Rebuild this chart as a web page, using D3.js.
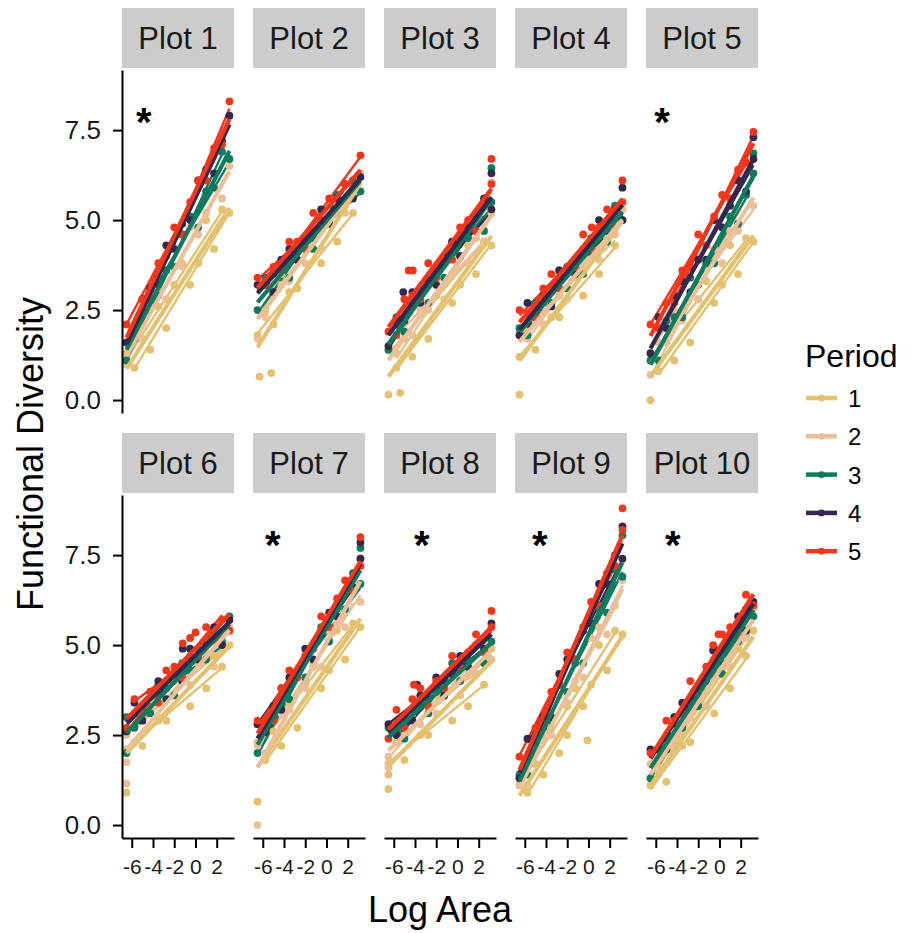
<!DOCTYPE html>
<html>
<head>
<meta charset="utf-8">
<script src="https://cdn.jsdelivr.net/npm/d3@7"></script>
<style>
  body { margin: 0; background: #fff; }
  text { font-family: "Liberation Sans", Arial, sans-serif; }
</style>
</head>
<body>
<svg id="canvas"></svg>
<script>
/***********************************************************************/
// Data

var plotNames = ['Plot 1', 'Plot 2', 'Plot 3', 'Plot 4', 'Plot 5', 'Plot 6', 'Plot 7', 'Plot 8', 'Plot 9', 'Plot 10'];
var periods = ['1', '2', '3', '4', '5'];
var periodColors = ['#E3C16F', '#EBBF98', '#0E7A5E', '#35284B', '#F2361C'];

var logArea = [-6.5, -5.75, -5.0, -4.25, -3.5, -2.75, -2.0, -1.25, -0.5, 0.25, 1.0, 1.75, 2.5, 3.2];
var xTicks = [-6, -4, -2, 0, 2];
var yTicks = [0, 2.5, 5, 7.5];

// functional diversity, one row per period, one value per logArea column
var fd1 = [
  [1.3, 0.9, 1.7, 1.4, 2.6, 2.0, 3.2, 3.8, 3.2, 3.8, 5.0, 4.2, 5.3, 5.2],
  [1.0, 2.0, 1.7, 2.6, 3.1, 2.8, 3.7, 3.7, 4.8, 4.6, 5.2, 5.9, 5.6, 6.5],
  [1.1, 2.0, 2.2, 3.1, 2.9, 3.6, 3.7, 4.6, 5.1, 4.8, 5.8, 5.9, 6.9, 6.7],
  [1.6, 1.7, 2.8, 3.1, 3.2, 4.3, 4.2, 4.9, 5.0, 6.1, 6.4, 6.3, 7.2, 7.9],
  [2.1, 2.0, 2.8, 2.8, 3.8, 4.0, 4.8, 4.6, 5.5, 6.1, 6.1, 7.0, 7.1, 8.3]
];
var fd2 = [
  [1.8, 2.5, 2.1, 3.5, 3.0, 3.1, 4.3, 4.4, 3.8, 5.0, 4.4, 5.4, 5.2, 6.3],
  [2.5, 2.3, 3.3, 3.2, 3.3, 4.2, 3.8, 4.5, 4.2, 5.2, 5.4, 5.2, 6.1, 5.8],
  [2.5, 3.4, 3.0, 3.6, 3.4, 4.3, 4.5, 4.2, 4.9, 4.9, 5.7, 5.5, 6.1, 5.8],
  [3.2, 3.2, 3.0, 3.9, 4.2, 3.9, 4.4, 4.5, 5.3, 4.9, 5.6, 6.0, 5.6, 6.2],
  [3.4, 3.2, 3.7, 3.6, 4.4, 4.4, 4.2, 5.2, 5.0, 5.6, 5.3, 6.0, 5.9, 6.8]
];
var fd3 = [
  [1.4, 0.9, 1.7, 1.2, 2.4, 1.7, 2.9, 3.4, 2.7, 3.2, 4.3, 3.5, 4.4, 4.3],
  [1.5, 1.3, 1.9, 1.8, 2.5, 2.5, 3.2, 2.8, 3.5, 4.0, 3.8, 4.5, 4.4, 5.2],
  [1.4, 2.3, 1.9, 2.7, 3.1, 2.7, 3.5, 3.4, 4.4, 4.0, 4.5, 5.1, 4.7, 5.5],
  [1.5, 2.2, 2.2, 3.0, 2.7, 3.3, 3.2, 4.0, 4.4, 4.0, 4.8, 4.7, 5.6, 5.3],
  [1.9, 1.8, 2.8, 2.9, 2.8, 3.8, 3.4, 3.9, 3.9, 4.8, 5.0, 4.7, 5.4, 6.0]
];
var fd4 = [
  [1.2, 1.9, 1.4, 2.8, 2.3, 2.3, 3.5, 3.5, 2.9, 4.2, 3.5, 4.5, 4.3, 5.3],
  [1.9, 1.7, 2.2, 2.1, 3.0, 2.9, 2.8, 3.7, 3.6, 4.2, 3.9, 4.6, 4.6, 5.3],
  [2.0, 1.8, 2.7, 2.7, 2.7, 3.6, 3.1, 3.8, 3.5, 4.5, 4.7, 4.4, 5.4, 5.0],
  [1.8, 2.7, 2.3, 2.9, 2.6, 3.6, 3.7, 3.5, 4.1, 4.1, 5.0, 4.7, 5.3, 5.0],
  [2.5, 2.4, 2.3, 3.1, 3.5, 3.1, 3.7, 3.7, 4.6, 4.2, 4.8, 5.3, 4.8, 5.5]
];
var fd5 = [
  [1.3, 0.8, 1.6, 1.1, 2.3, 1.6, 2.8, 3.3, 2.7, 3.2, 4.3, 3.5, 4.5, 4.4],
  [0.7, 1.6, 1.6, 2.5, 2.2, 2.9, 2.8, 3.7, 4.2, 3.8, 4.7, 4.7, 5.7, 5.4],
  [1.1, 1.1, 2.2, 2.3, 2.3, 3.4, 3.2, 3.8, 3.8, 4.8, 5.1, 4.9, 5.7, 6.3],
  [1.3, 2.3, 2.0, 2.9, 3.3, 3.0, 3.9, 3.9, 5.0, 4.8, 5.4, 6.1, 5.8, 6.7],
  [2.1, 2.0, 2.7, 2.7, 3.6, 3.7, 4.6, 4.3, 5.1, 5.7, 5.6, 6.4, 6.6, 7.45]
];
var fd6 = [
  [2.1, 2.7, 2.2, 3.5, 2.9, 2.9, 4.0, 4.0, 3.3, 4.5, 3.8, 4.7, 4.4, 5.0],
  [2.5, 2.3, 3.2, 3.2, 3.0, 3.9, 3.6, 4.0, 3.9, 4.7, 4.8, 4.4, 5.0, 5.5],
  [3.0, 2.7, 3.2, 3.1, 3.9, 3.8, 3.6, 4.5, 4.3, 4.9, 4.6, 5.2, 5.1, 5.8],
  [2.6, 3.4, 2.9, 3.7, 4.0, 3.5, 4.2, 4.0, 4.9, 4.6, 5.0, 5.5, 5.0, 5.7],
  [2.7, 3.5, 3.1, 3.7, 3.4, 4.3, 4.4, 4.1, 4.7, 4.7, 5.5, 5.2, 5.7, 5.4]
];
var fd7 = [
  [2.3, 1.8, 2.6, 2.2, 3.4, 2.7, 3.9, 4.4, 3.8, 4.3, 5.4, 4.6, 5.6, 5.5],
  [2.2, 2.0, 3.1, 3.1, 3.2, 4.2, 3.8, 4.5, 4.4, 5.4, 5.6, 5.5, 6.5, 6.2],
  [2.0, 2.9, 2.9, 3.8, 3.5, 4.2, 4.1, 5.0, 5.5, 5.1, 6.0, 6.0, 7.0, 6.7],
  [2.8, 2.6, 3.3, 3.2, 4.1, 4.2, 4.9, 4.6, 5.3, 5.9, 5.8, 6.5, 6.6, 7.4],
  [2.9, 2.9, 2.9, 3.8, 4.3, 4.1, 4.7, 4.9, 5.8, 5.5, 6.3, 6.8, 6.5, 7.2]
];
var fd8 = [
  [1.7, 2.3, 1.8, 3.1, 2.5, 2.5, 3.6, 3.6, 2.9, 4.0, 3.3, 4.2, 3.9, 4.9],
  [1.9, 2.6, 2.5, 3.2, 2.8, 3.3, 3.1, 3.8, 4.1, 3.6, 4.3, 4.2, 5.0, 4.6],
  [2.7, 2.6, 2.4, 3.2, 3.5, 3.1, 3.7, 3.7, 4.5, 4.0, 4.6, 5.0, 4.5, 5.1],
  [2.8, 2.5, 3.0, 2.9, 3.6, 3.5, 4.1, 3.6, 4.2, 4.7, 4.4, 5.0, 4.9, 5.6],
  [2.4, 3.2, 2.7, 3.5, 3.8, 3.3, 4.0, 3.8, 4.7, 4.4, 4.8, 5.3, 4.8, 5.5]
];
var fd9 = [
  [1.3, 0.9, 1.7, 1.4, 2.7, 2.0, 3.3, 3.8, 3.3, 3.9, 5.0, 4.3, 5.4, 5.3],
  [1.1, 1.1, 2.2, 2.5, 2.5, 3.6, 3.4, 4.0, 4.1, 5.2, 5.5, 5.3, 6.1, 6.8],
  [1.4, 1.4, 2.5, 2.7, 2.9, 3.9, 3.7, 4.5, 4.5, 5.6, 6.0, 5.9, 7.1, 6.9],
  [1.3, 2.4, 2.3, 3.0, 3.0, 4.2, 4.6, 4.6, 5.4, 5.6, 6.7, 6.7, 7.5, 7.4],
  [1.9, 1.9, 2.7, 2.8, 3.7, 3.9, 4.8, 4.6, 5.5, 6.2, 6.1, 7.0, 7.2, 8.2]
];
var fd10 = [
  [1.1, 1.6, 1.2, 2.6, 2.2, 2.3, 3.5, 3.7, 3.1, 4.4, 3.8, 4.9, 4.7, 5.4],
  [1.7, 1.5, 2.2, 2.1, 2.9, 3.0, 3.7, 3.3, 4.1, 4.6, 4.4, 5.2, 5.2, 6.0],
  [1.3, 2.1, 2.2, 3.0, 2.7, 3.4, 3.3, 4.2, 4.6, 4.2, 5.1, 5.1, 6.0, 5.8],
  [2.1, 2.1, 2.1, 3.0, 3.4, 3.2, 3.8, 4.0, 4.9, 4.5, 5.3, 5.8, 5.4, 6.2],
  [2.0, 1.8, 2.9, 2.9, 3.1, 4.0, 3.6, 4.4, 4.2, 5.3, 5.5, 5.3, 6.4, 6.1]
];
var fdByPlot = [fd1, fd2, fd3, fd4, fd5, fd6, fd7, fd8, fd9, fd10];

// stray points: [plot, period, logArea, fd]
var extraPoints = [
  [2, 1, -6.3, 0.65], [2, 1, -5.2, 0.75], [2, 2, -6.5, 1.7],
  [3, 1, -6.5, 0.15], [3, 1, -5.4, 0.2], [3, 5, -4.6, 3.6], [3, 5, -4.2, 3.6], [3, 4, -5.1, 3.0],
  [3, 5, 3.2, 6.7], [3, 3, 3.2, 6.45], [3, 4, 3.2, 6.3], [3, 2, 3.2, 6.05],
  [4, 1, -6.5, 0.15], [4, 5, 3.2, 6.1], [4, 4, 3.2, 5.9], [4, 5, 0.3, 4.8],
  [5, 1, -6.5, 0.0], [5, 3, 3.2, 6.85], [5, 4, 3.2, 7.3],
  [6, 1, -6.5, 0.9], [6, 2, -6.5, 1.15], [6, 2, -6.5, 1.75], [6, 3, -6.5, 2.0],
  [6, 5, -1.2, 5.05], [6, 5, -0.5, 5.2], [6, 5, 0.0, 5.35], [6, 4, -1.2, 4.9],
  [7, 2, -6.5, 0.0], [7, 1, -6.5, 0.65], [7, 5, 3.2, 8.0], [7, 4, 3.2, 7.85], [7, 3, 3.2, 7.7], [7, 2, 3.2, 7.4],
  [8, 1, -6.5, 1.0], [8, 1, -6.5, 1.4], [8, 2, -6.5, 1.6], [8, 5, 3.2, 5.95], [8, 5, -4.1, 3.9], [8, 4, -3.8, 3.9],
  [9, 5, 3.2, 8.8], [9, 4, 3.2, 8.3], [9, 3, 3.2, 8.05], [9, 1, -2.0, 2.5], [9, 1, -0.1, 2.35],
  [10, 5, -0.1, 5.3], [10, 5, -0.6, 5.0], [10, 4, -0.6, 4.85]
];

// significance markers
var starPlots = [1, 5, 7, 8, 9, 10];
var starX = [-4.86, -5.42, -5.05, -3.35, -4.58, -4.39];
var starY = [7.95, 7.95, 8.0, 8.0, 8.0, 8.0];

/***********************************************************************/
// Layout

var W = 914, H = 933;
var panelW = 112, panelH = 343;
var panelLeft = [122, 253, 384, 515, 646];
var panelTop = [70, 495];
var stripH = 60, stripGap = 2;

var svg = d3.select('#canvas').attr('width', W).attr('height', H);

var x = d3.scaleLinear().domain([-6.92, 3.63]).range([0, panelW]);
var y = d3.scaleLinear().domain([-0.36, 9.17]).range([panelH, 0]);

function lmFit(pts){
  var mx = d3.mean(pts, d => d[0]), my = d3.mean(pts, d => d[1]);
  var b = d3.sum(pts, d => (d[0]-mx)*(d[1]-my)) / d3.sum(pts, d => (d[0]-mx)*(d[0]-mx));
  var a = my - b*mx;
  var ext = d3.extent(pts, d => d[0]);
  return ext.map(v => [v, a + b*v]);
}

var line = d3.line().x(d => x(d[0])).y(d => y(d[1]));

/***********************************************************************/
// Panels

plotNames.forEach((name, k) => {
  var row = Math.floor(k/5), col = k % 5;
  var g = svg.append('g').attr('transform', 'translate(' + panelLeft[col] + ',' + panelTop[row] + ')');

  // strip
  g.append('rect').attr('x', 0).attr('y', -stripH - stripGap).attr('width', panelW).attr('height', stripH)
    .attr('fill', '#cccccc');
  g.append('text').attr('x', panelW/2).attr('y', -stripGap - stripH/2 + 11)
    .attr('text-anchor', 'middle').attr('font-size', 31).attr('fill', '#1a1a1a').text(name);

  var fd = fdByPlot[k];
  var groups = periods.map((p, i) => {
    var pts = logArea.map((v, j) => [v, fd[i][j]]);
    var extra = extraPoints.filter(e => e[0] === k+1 && e[1] === i+1).map(e => [e[2], e[3]]);
    return { pts: pts, all: pts.concat(extra), color: periodColors[i] };
  });

  // sub-sample fits (thin)
  groups.forEach(gr => {
    [0, 1].forEach(off => {
      var sub = gr.pts.filter((d, j) => j % 2 === off);
      g.append('path').datum(lmFit(sub)).attr('d', line)
        .attr('fill', 'none').attr('stroke', gr.color).attr('stroke-width', 2.4);
    });
  });

  // points
  groups.forEach(gr => {
    g.append('g').selectAll('circle').data(gr.all).join('circle')
      .attr('cx', d => x(d[0])).attr('cy', d => y(d[1])).attr('r', 3.9)
      .attr('fill', gr.color);
  });

  // period fits (thick)
  groups.forEach(gr => {
    g.append('path').datum(lmFit(gr.all)).attr('d', line)
      .attr('fill', 'none').attr('stroke', gr.color).attr('stroke-width', 4.2);
  });

  // asterisk
  var s = starPlots.indexOf(k+1);
  if(s >= 0){
    g.append('text').attr('x', x(starX[s])).attr('y', y(starY[s]) + 22)
      .attr('text-anchor', 'middle').attr('font-size', 40).attr('font-weight', 'bold').text('*');
  }

  // y axis on first column
  if(col === 0){
    var ya = g.append('g').call(d3.axisLeft(y).tickValues(yTicks).tickFormat(d3.format('.1f'))
      .tickSize(9).tickSizeOuter(0).tickPadding(12));
    ya.select('.domain').attr('stroke-width', 2);
    ya.selectAll('.tick line').attr('stroke-width', 2);
    ya.selectAll('.tick text').attr('font-size', 26).attr('fill', '#1a1a1a').attr('font-family', '"Liberation Sans", Arial, sans-serif');
  }

  // x axis on bottom row
  if(row === 1){
    var xa = g.append('g').attr('transform', 'translate(0,' + panelH + ')')
      .call(d3.axisBottom(x).tickValues(xTicks).tickFormat(d => String(d))
      .tickSize(10).tickSizeOuter(0).tickPadding(11));
    xa.select('.domain').attr('stroke-width', 2);
    xa.selectAll('.tick line').attr('stroke-width', 2);
    xa.selectAll('.tick text').attr('font-size', 21).attr('fill', '#1a1a1a').attr('font-family', '"Liberation Sans", Arial, sans-serif');
  }
});

/***********************************************************************/
// Axis titles

svg.append('text').attr('transform', 'translate(43,454) rotate(-90)')
  .attr('text-anchor', 'middle').attr('font-size', 36).text('Functional Diversity');
svg.append('text').attr('x', 440).attr('y', 922)
  .attr('text-anchor', 'middle').attr('font-size', 36).text('Log Area');

/***********************************************************************/
// Legend

var legend = svg.append('g').attr('transform', 'translate(805,0)');
legend.append('text').attr('x', 0).attr('y', 367).attr('font-size', 32).text('Period');
periods.forEach((p, i) => {
  var cy = 398 + i*38.3;
  legend.append('line').attr('x1', 1).attr('x2', 32).attr('y1', cy).attr('y2', cy)
    .attr('stroke', periodColors[i]).attr('stroke-width', 4.5);
  legend.append('circle').attr('cx', 16.5).attr('cy', cy).attr('r', 3.4).attr('fill', periodColors[i]);
  legend.append('text').attr('x', 43).attr('y', cy + 9).attr('font-size', 24).text(p);
});
</script>
</body>
</html>
